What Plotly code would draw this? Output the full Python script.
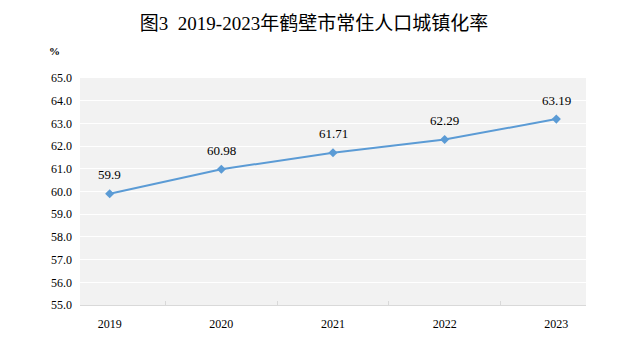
import plotly.graph_objects as go

years = ["2019", "2020", "2021", "2022", "2023"]
rates = [59.9, 60.98, 61.71, 62.29, 63.19]
rate_labels = ["59.9", "60.98", "61.71", "62.29", "63.19"]
y_ticks = [55, 56, 57, 58, 59, 60, 61, 62, 63, 64, 65]

serif = "Liberation Serif, Times New Roman, serif"

fig = go.Figure()
fig.add_trace(go.Scatter(
    x=years, y=rates,
    mode="lines+markers",
    line=dict(color="#5b9bd5", width=2),
    marker=dict(symbol="diamond", size=7, color="#5b9bd5"),
    showlegend=False,
))

# category axis: annotation x positions are category indices
annotations = [dict(
    text=lbl, x=i, y=val, xref="x", yref="y",
    yshift=19, showarrow=False, yanchor="middle",
    font=dict(family=serif, size=13, color="#000000"),
) for i, (val, lbl) in enumerate(zip(rates, rate_labels))]
annotations.append(dict(
    text="<b>%</b>", xref="paper", yref="paper", x=-0.035, y=1.12,
    xanchor="right", yanchor="middle", showarrow=False,
    font=dict(family=serif, size=11, color="#000000"),
))

fig.update_layout(
    width=612, height=351,
    paper_bgcolor="#ffffff",
    plot_bgcolor="#f2f2f2",
    margin=dict(l=72, r=34, t=70, b=54),
    title=dict(
        text="图3  2019-2023年鹤壁市常住人口城镇化率",
        x=0.5, xanchor="center", y=0.955, yanchor="middle",
        font=dict(family="Liberation Serif, Noto Sans CJK SC", size=19, color="#000000"),
    ),
    annotations=annotations,
)

fig.update_xaxes(
    type="category",
    tickson="boundaries",
    ticks="inside", ticklen=4, tickcolor="#d9d9d9",
    showgrid=False, automargin=False,
    showline=True, linecolor="#d9d9d9", linewidth=1,
    ticklabelstandoff=8,
    tickfont=dict(family=serif, size=12, color="#000000"),
)
fig.update_yaxes(
    range=[55, 65], automargin=False,
    tickvals=y_ticks,
    ticktext=[f"{v:.1f}" for v in y_ticks],
    showgrid=True, gridcolor="#ffffff", gridwidth=1,
    zeroline=False, showline=False,
    ticks="", ticklabelstandoff=7,
    tickfont=dict(family=serif, size=12, color="#000000"),
)

fig.write_html("out.html")
